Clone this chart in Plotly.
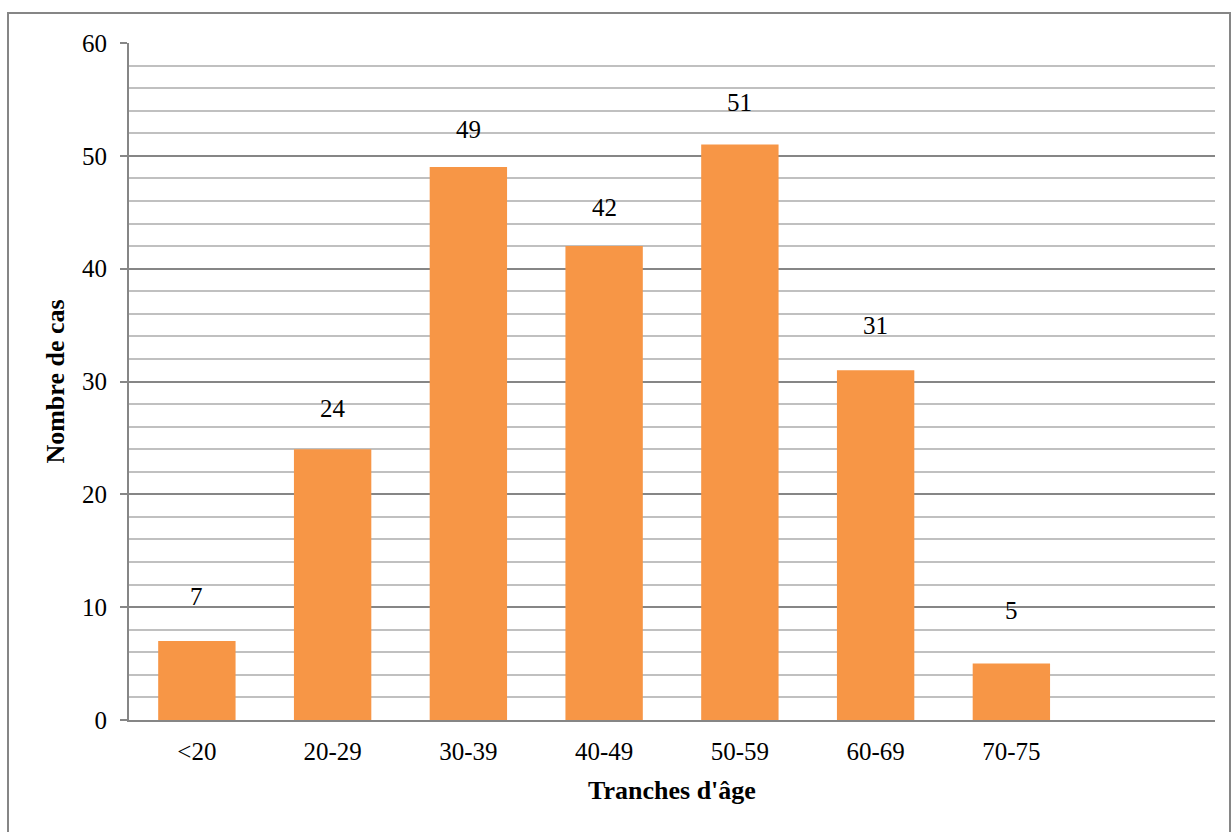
import plotly.graph_objects as go

categories = ["<20", "20-29", "30-39", "40-49", "50-59", "60-69", "70-75"]
values = [7, 24, 49, 42, 51, 31, 5]
y_ticks = [0, 10, 20, 30, 40, 50, 60]

# style: pixel gap of each value label above its bar (as placed in the original)
label_shift_px = [45, 41, 38, 39, 42, 45, 53]

W, H = 1231, 832
L, R, T, B = 129, 16, 43, 112
pw = W - L - R
ph = H - T - B

font_family = "Liberation Serif, Times New Roman, serif"
x_idx = list(range(len(categories)))

fig = go.Figure()
fig.add_trace(go.Bar(
    x=x_idx, y=values, width=0.57,
    marker=dict(color="#F79646", line=dict(width=0)),
    showlegend=False, hoverinfo="skip",
))

for xi, v, s in zip(x_idx, values, label_shift_px):
    fig.add_annotation(x=xi, y=v, text=str(v), showarrow=False,
                       yshift=s, font=dict(family=font_family, size=25, color="#000"))

# outer chart border
fig.add_shape(type="rect", xref="paper", yref="paper",
              x0=(8 - L) / pw, x1=(1230 - L) / pw,
              y0=(H - B - 840) / ph, y1=(H - B - 13) / ph,
              line=dict(color="#868686", width=2), fillcolor="rgba(0,0,0,0)", layer="below")

fig.update_layout(
    width=W, height=H,
    margin=dict(l=L, r=R, t=T, b=B, autoexpand=False),
    plot_bgcolor="white", paper_bgcolor="white",
    font=dict(family=font_family, size=25, color="#000"),
    xaxis=dict(
        range=[-0.5, 7.5],
        tickmode="array", tickvals=x_idx, ticktext=categories,
        showgrid=False, zeroline=False,
        showline=True, linecolor="#868686", linewidth=2,
        ticks="", ticklabelstandoff=8,
        title=dict(text="<b>Tranches d'âge</b>", font=dict(size=26), standoff=17),
    ),
    yaxis=dict(
        range=[0, 60], tickmode="array", tickvals=y_ticks,
        showgrid=True, gridcolor="#868686", gridwidth=2,
        minor=dict(dtick=2, showgrid=True, gridcolor="#c0c0c0", gridwidth=2, ticks=""),
        zeroline=False,
        showline=True, linecolor="#868686", linewidth=2,
        ticks="outside", ticklen=7, tickcolor="#868686", tickwidth=2,
        ticklabelstandoff=8,
        title=dict(text="<b>Nombre de cas</b>", font=dict(size=26), standoff=10),
    ),
)

fig.write_html("out.html")
